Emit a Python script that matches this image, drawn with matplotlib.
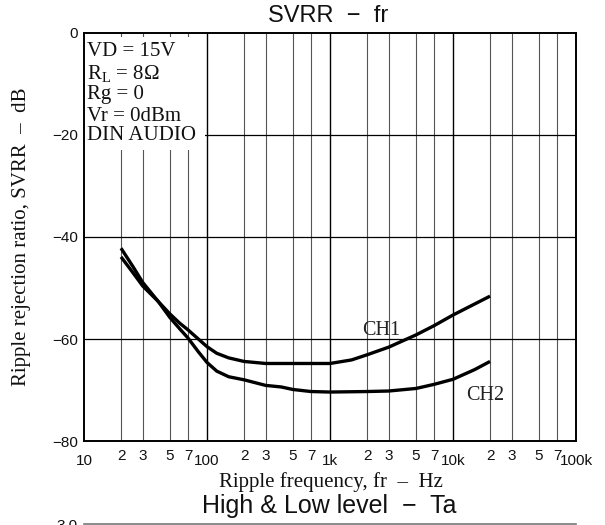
import matplotlib
matplotlib.use("Agg")
import matplotlib.pyplot as plt
from matplotlib.patches import Rectangle

# ---- data ----
freq_ch1 = [20, 25, 30, 40, 50, 60, 70, 85, 100, 120, 150, 200, 300, 500, 700, 1000, 1500, 2000, 3000, 5000, 7000, 10000, 20000]
svrr_ch1 = [-43.9, -47.0, -49.6, -52.6, -55.1, -56.9, -58.2, -60.0, -61.5, -62.8, -63.7, -64.4, -64.8, -64.8, -64.8, -64.8, -64.1, -63.1, -61.6, -59.2, -57.4, -55.3, -51.6]
freq_ch2 = [20, 25, 30, 40, 50, 60, 70, 85, 100, 120, 150, 200, 300, 400, 500, 700, 1000, 2000, 3000, 5000, 7000, 10000, 15000, 20000]
svrr_ch2 = [-42.2, -45.8, -48.9, -52.6, -55.8, -58.0, -59.8, -62.5, -64.6, -66.3, -67.4, -68.0, -69.1, -69.4, -69.9, -70.3, -70.4, -70.3, -70.2, -69.7, -68.9, -67.9, -66.0, -64.4]

major_ticks = [10, 100, 1000, 10000, 100000]
major_labels = ["10", "100", "1k", "10k", "100k"]
minor_mult = [2, 3, 5, 7]
minor_labels = ["2", "3", "5", "7"]
y_ticks = [0, -20, -40, -60, -80]
y_labels = ["0", "\u221220", "\u221240", "\u221260", "\u221280"]
cond_lines = ["VD = 15V", "R$_\\mathregular{L}$ = 8\u03a9", "Rg = 0", "Vr = 0dBm", "DIN AUDIO"]

SERIF = "Liberation Serif"
SANS = "Liberation Sans"
plt.rcParams["mathtext.fontset"] = "custom"
plt.rcParams["mathtext.rm"] = SERIF

W, H = 605, 525
fig = plt.figure(figsize=(W / 100, H / 100), dpi=100)

def px(x0, y0, x1, y1):
    return [x0 / W, 1 - y1 / H, (x1 - x0) / W, (y1 - y0) / H]

ax = fig.add_axes(px(84, 33, 576, 441))
ax.set_xscale("log")
ax.set_xlim(10, 100000)
ax.set_ylim(-80, 0)

# grid lines
minor_pos = [m * d for d in [10, 100, 1000, 10000] for m in minor_mult]
for x in minor_pos:
    ax.axvline(x, color="#555555", lw=0.8, zorder=1)
for x in major_ticks[1:-1]:
    ax.axvline(x, color="black", lw=1.0, zorder=1)
for y in y_ticks[1:-1]:
    ax.axhline(y, color="black", lw=0.9, zorder=1)

# conditions box (white background hiding grid)
ax.add_patch(Rectangle((0.002, 0.713), 0.244, 0.277, transform=ax.transAxes,
                       facecolor="white", edgecolor="none", zorder=2))
ys = [51, 74, 95, 116, 136]
for t, yy in zip(cond_lines, ys):
    fig.text(87 / W, 1 - yy / H, t, fontsize=15, family=SERIF, color="#111111",
             ha="left", va="center", zorder=5)

# curves
ax.plot(freq_ch1, svrr_ch1, color="black", lw=2.4, solid_joinstyle="round",
        solid_capstyle="butt", zorder=4)
ax.plot(freq_ch2, svrr_ch2, color="black", lw=2.4, solid_joinstyle="round",
        solid_capstyle="butt", zorder=4)
ax.text(2600, -59.2, "CH1", fontsize=14.5, family=SERIF, color="#222222",
        ha="center", va="baseline", zorder=5)
ax.text(18400, -71.9, "CH2", fontsize=14.5, family=SERIF, color="#222222",
        ha="center", va="baseline", zorder=5)

# ticks
ax.set_xticks(major_ticks)
ax.set_xticklabels(major_labels)
ax.set_xticks(minor_pos, minor=True)
ax.set_xticklabels(minor_labels * 4, minor=True)
ax.tick_params(which="both", length=0)
ax.set_yticks(y_ticks)
ax.set_yticklabels(y_labels)
ax.tick_params(axis="x", which="major", pad=9.5, labelsize=11)
ax.tick_params(axis="x", which="minor", pad=5.5, labelsize=11)
ax.tick_params(axis="y", pad=4.5, labelsize=11)
for lab in ax.get_xticklabels(which="both") + ax.get_yticklabels():
    lab.set_family(SANS)
    lab.set_color("#111111")
for s in ax.spines.values():
    s.set_linewidth(1.4)
    s.set_zorder(6)

# labels and titles
fig.text(22 / W, 1 - 237 / H, "Ripple rejection ratio, SVRR  \u2013  dB", rotation=90,
         fontsize=15, family=SERIF, color="#111111", ha="center", va="center")
fig.text(331 / W, 1 - 487 / H, "Ripple frequency, fr  \u2013  Hz",
         fontsize=15, family=SERIF, color="#111111", ha="center", va="baseline")
fig.text(328 / W, 1 - 22 / H, "SVRR  \u2212  fr", fontsize=17, family=SANS,
         color="#111111", ha="center", va="baseline")
fig.text(329 / W, 1 - 513 / H, "High & Low level  \u2212  Ta", fontsize=18, family=SANS,
         color="#111111", ha="center", va="baseline")

# next chart (cut off at the bottom)
ax2 = fig.add_axes(px(84, 524, 576, 700))
ax2.set_xlim(0, 1)
ax2.set_ylim(0, 3.0)
ax2.set_xticks([])
ax2.set_yticks([3.0])
ax2.set_yticklabels(["3.0"])
ax2.tick_params(length=0, pad=4.5, labelsize=11)
for lab in ax2.get_yticklabels():
    lab.set_family(SANS)
    lab.set_color("#111111")
for k, s in ax2.spines.items():
    s.set_visible(k == "top")
ax2.spines["top"].set_color("#777777")
ax2.spines["top"].set_linewidth(1.2)

fig.savefig("out.png", dpi=100)
